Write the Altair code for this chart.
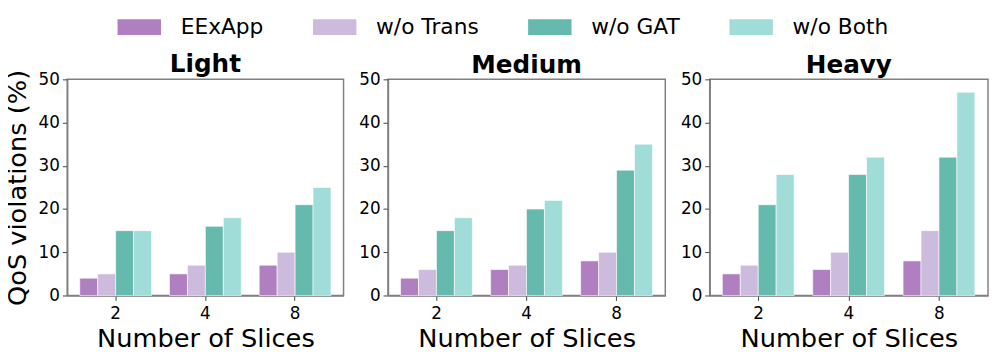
import altair as alt
import pandas as pd

# ---- data -------------------------------------------------------------
slices = ["2", "4", "8"]
methods = ["EExApp", "w/o Trans", "w/o GAT", "w/o Both"]
colors = ["#AF7FC0", "#CDBBDD", "#66BAAD", "#A0DDD9"]
scenarios = ["Light", "Medium", "Heavy"]

light_eexapp = [4, 5, 7]
light_wo_trans = [5, 7, 10]
light_wo_gat = [15, 16, 21]
light_wo_both = [15, 18, 25]

medium_eexapp = [4, 6, 8]
medium_wo_trans = [6, 7, 10]
medium_wo_gat = [15, 20, 29]
medium_wo_both = [18, 22, 35]

heavy_eexapp = [5, 6, 8]
heavy_wo_trans = [7, 10, 15]
heavy_wo_gat = [21, 28, 32]
heavy_wo_both = [28, 32, 47]

y_ticks = [0, 10, 20, 30, 40, 50]

series = {
    "Light": [light_eexapp, light_wo_trans, light_wo_gat, light_wo_both],
    "Medium": [medium_eexapp, medium_wo_trans, medium_wo_gat, medium_wo_both],
    "Heavy": [heavy_eexapp, heavy_wo_trans, heavy_wo_gat, heavy_wo_both],
}

rows = []
for sc in scenarios:
    for m, vals in zip(methods, series[sc]):
        for s, v in zip(slices, vals):
            rows.append({"scenario": sc, "method": m, "slices": s, "value": v})
df = pd.DataFrame(rows)
legend_df = pd.DataFrame({"method": methods})

FONT = "DejaVu Sans"
color_scale = alt.Scale(domain=methods, range=colors)


def panel(name, first, w):
    d = df[df["scenario"] == name]
    y_axis_kwargs = dict(values=y_ticks, labelFontSize=17, tickSize=5,
                         labelPadding=3, titleFontSize=26, titlePadding=8,
                         titleFontWeight="normal")
    y_axis_kwargs["title"] = "QoS violations (%)" if first else ""
    return alt.Chart(d).mark_bar(stroke="white", strokeWidth=0.6, opacity=1).encode(
        x=alt.X("slices:N", sort=slices,
                scale=alt.Scale(paddingInner=0.2, paddingOuter=0.14),
                axis=alt.Axis(title="Number of Slices", labelAngle=0,
                              labelFontSize=17, tickSize=5, labelPadding=5,
                              titleFontSize=26, titlePadding=5,
                              titleFontWeight="normal")),
        xOffset=alt.XOffset("method:N", sort=methods,
                            scale=alt.Scale(paddingInner=0, paddingOuter=0)),
        y=alt.Y("value:Q", scale=alt.Scale(domain=[0, 50], nice=False),
                axis=alt.Axis(**y_axis_kwargs)),
        color=alt.Color("method:N", sort=methods, scale=color_scale, legend=None),
    ).properties(
        width=w, height=219,
        title=alt.TitleParams(name, fontSize=25, fontWeight="bold", font=FONT,
                              baseline="bottom", offset=-33, anchor="middle"),
    )


legend_chart = alt.Chart(legend_df).mark_point(size=0, filled=True, opacity=1).encode(
    color=alt.Color(
        "method:N", sort=methods, scale=color_scale,
        legend=alt.Legend(
            title="", orient="none", direction="horizontal",
            legendX=57, legendY=0, padding=0,
            symbolType="M-1.375,-0.5L1.375,-0.5L1.375,0.5L-1.375,0.5Z",
            symbolSize=1024, symbolStrokeWidth=0, symbolOpacity=1,
            labelFontSize=22, labelOffset=26, columnPadding=50,
            labelFont=FONT,
        ),
    )
).properties(width=900, height=1, view=alt.ViewBackground(stroke="transparent"))

panels = alt.hconcat(
    panel("Light", True, 280),
    panel("Medium", False, 281),
    panel("Heavy", False, 282),
    spacing=13,
)

chart = alt.vconcat(legend_chart, panels, spacing=13).resolve_scale(
    color="independent"
).properties(
    padding={"left": -5, "top": 0, "right": 0, "bottom": 0},
).configure_view(
    stroke="#808080", strokeWidth=1.5,
).configure_axis(
    grid=False, domainColor="#808080", domainWidth=1.5,
    tickColor="#444444", tickWidth=1, labelColor="black", titleColor="black",
    labelFont=FONT, titleFont=FONT,
).configure_legend(
    labelFont=FONT, labelColor="black",
).configure_text(font=FONT)

chart.save("out.html", embed_options={"renderer": "svg", "actions": False})
